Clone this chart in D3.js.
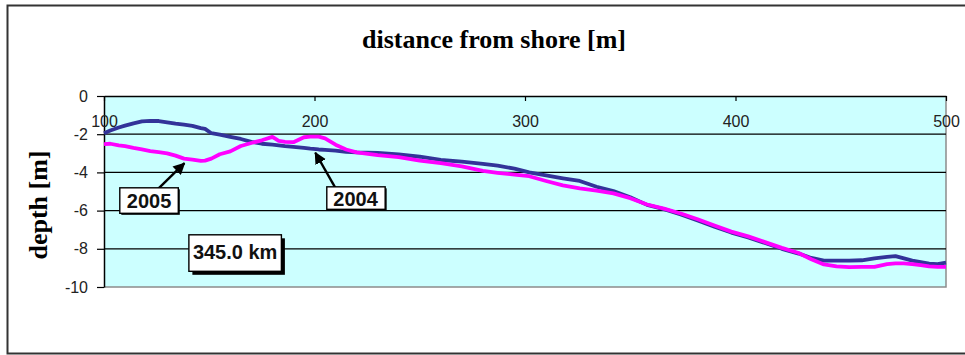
<!DOCTYPE html>
<html>
<head>
<meta charset="utf-8">
<script src="https://cdn.jsdelivr.net/npm/d3@7"></script>
<style>
  html, body { margin: 0; padding: 0; background: #fff; }
  svg { display: block; }
</style>
</head>
<body>
<svg id="chart" width="965" height="355"></svg>
<script>
// ---- data ----
const distance = [100,103,107,110,114,118,122,126,130,134,138,142,146,148,151,155,160,165,170,175,180,183,186,190,195,198,202,205,210,215,220,230,240,250,260,270,280,287,295,302,310,318,326,334,342,350,358,366,374,382,390,398,406,414,422,430,436,442,448,454,460,466,472,476,480,484,488,492,496,500];
const depth2004 = [-1.95,-1.81,-1.65,-1.55,-1.43,-1.33,-1.30,-1.31,-1.38,-1.45,-1.50,-1.56,-1.68,-1.72,-1.95,-2.02,-2.14,-2.25,-2.40,-2.50,-2.55,-2.58,-2.62,-2.66,-2.72,-2.76,-2.80,-2.82,-2.86,-2.92,-2.95,-2.98,-3.06,-3.18,-3.35,-3.44,-3.55,-3.65,-3.80,-4.00,-4.15,-4.31,-4.45,-4.75,-4.98,-5.30,-5.70,-5.92,-6.20,-6.52,-6.84,-7.15,-7.40,-7.70,-8.00,-8.25,-8.48,-8.62,-8.62,-8.62,-8.60,-8.50,-8.42,-8.38,-8.50,-8.62,-8.70,-8.78,-8.80,-8.73];
const depth2005 = [-2.52,-2.50,-2.58,-2.62,-2.72,-2.80,-2.88,-2.94,-3.00,-3.12,-3.28,-3.33,-3.40,-3.38,-3.28,-3.05,-2.90,-2.62,-2.46,-2.32,-2.14,-2.35,-2.40,-2.42,-2.16,-2.13,-2.13,-2.22,-2.55,-2.80,-2.95,-3.10,-3.20,-3.38,-3.52,-3.68,-3.92,-4.02,-4.12,-4.20,-4.45,-4.68,-4.84,-4.95,-5.10,-5.35,-5.68,-5.90,-6.15,-6.45,-6.78,-7.10,-7.35,-7.65,-7.95,-8.22,-8.55,-8.82,-8.92,-8.96,-8.95,-8.95,-8.80,-8.76,-8.76,-8.80,-8.86,-8.92,-8.95,-8.95];
const xTicks = [100, 200, 300, 400, 500];
const yTicks = [0, -2, -4, -6, -8, -10];
const gridValues = [-2, -4, -6, -8];
const titleText = "distance from shore [m]";
const yTitleText = "depth [m]";
// annotations: label, label anchor (distance, depth), arrow target (distance, depth)
const labels2005 = { text: "2005", at: [121.4, -5.88], target: [138.2, -3.52], from: [124, -5.05] };
const labels2004 = { text: "2004", at: [219.5, -5.75], target: [200.4, -2.97], from: [210.8, -4.98] };
const kmLabel = { text: "345.0 km", at: [162.3, -8.55] };

// ---- layout ----
const svg = d3.select("#chart");
const pLeft = 104, pRight = 946, pTop = 96, pBottom = 287;

const x = d3.scaleLinear().domain([100, 500]).range([pLeft, pRight]);
const y = d3.scaleLinear().domain([0, -10]).range([pTop, pBottom]);

// outer frame
svg.append("rect")
  .attr("x", 7.5).attr("y", 5.5).attr("width", 965).attr("height", 348)
  .attr("fill", "#fff").attr("stroke", "#333").attr("stroke-width", 2);

// plot background
svg.append("rect")
  .attr("x", pLeft).attr("y", pTop).attr("width", pRight - pLeft).attr("height", pBottom - pTop)
  .attr("fill", "#ccffff");
// right and bottom gray border
svg.append("path")
  .attr("d", `M${pRight},${pTop}V${pBottom}H${pLeft}`)
  .attr("fill", "none").attr("stroke", "#8c8c8c").attr("stroke-width", 1.5);

// grid lines
svg.append("g").selectAll("line").data(gridValues).join("line")
  .attr("x1", pLeft).attr("x2", pRight)
  .attr("y1", d => y(d)).attr("y2", d => y(d))
  .attr("stroke", "#000").attr("stroke-width", 1.2);

// axes
const yAxis = d3.axisLeft(y).tickValues(yTicks).tickSize(7).tickSizeOuter(0).tickPadding(9)
  .tickFormat(d => String(d));
const gy = svg.append("g").attr("transform", `translate(${pLeft},0)`).call(yAxis);
gy.selectAll("text").attr("font-family", "'Liberation Sans', Arial, sans-serif")
  .attr("font-size", 16).attr("fill", "#222");
gy.selectAll("line").attr("stroke", "#000").attr("stroke-width", 1.2);
gy.select(".domain").attr("stroke", "#000").attr("stroke-width", 1.5);

const xAxis = d3.axisBottom(x).tickValues(xTicks).tickSize(5).tickSizeOuter(0).tickPadding(15)
  .tickFormat(d => String(d));
const gx = svg.append("g").attr("transform", `translate(0,${pTop})`).call(xAxis);
gx.selectAll("text").attr("font-family", "'Liberation Sans', Arial, sans-serif")
  .attr("font-size", 16).attr("fill", "#222");
gx.selectAll("line").attr("stroke", "#000").attr("stroke-width", 1.2);
gx.select(".domain").attr("stroke", "#000").attr("stroke-width", 1.5);

// lines
const line = vals => d3.line()
  .x((d, i) => x(distance[i]))
  .y((d, i) => y(vals[i]))
  .curve(d3.curveLinear)(vals);

svg.append("path").attr("d", line(depth2004))
  .attr("fill", "none").attr("stroke", "#333399").attr("stroke-width", 3.8)
  .attr("stroke-linejoin", "round");
svg.append("path").attr("d", line(depth2005))
  .attr("fill", "none").attr("stroke", "#ff00ff").attr("stroke-width", 3.8)
  .attr("stroke-linejoin", "round");

// titles
svg.append("text")
  .attr("x", 494).attr("y", 47.5).attr("text-anchor", "middle")
  .attr("font-family", "'Liberation Serif', 'Times New Roman', serif")
  .attr("font-weight", "bold").attr("font-size", 26).attr("fill", "#000")
  .text(titleText);
svg.append("text")
  .attr("transform", "translate(46.5,205) rotate(-90)").attr("text-anchor", "middle")
  .attr("font-family", "'Liberation Serif', 'Times New Roman', serif")
  .attr("font-weight", "bold").attr("font-size", 26).attr("fill", "#000")
  .text(yTitleText);

// arrow marker
svg.append("defs").append("marker")
  .attr("id", "arrow").attr("viewBox", "0 0 10 10").attr("refX", 9).attr("refY", 5)
  .attr("markerWidth", 5).attr("markerHeight", 5).attr("orient", "auto")
  .append("path").attr("d", "M0,0L10,5L0,10Z").attr("fill", "#000");

function arrow(a) {
  svg.append("line")
    .attr("x1", x(a.from[0])).attr("y1", y(a.from[1]))
    .attr("x2", x(a.target[0])).attr("y2", y(a.target[1]))
    .attr("stroke", "#000").attr("stroke-width", 2.4)
    .attr("marker-end", "url(#arrow)");
}
function boxLabel(a, padX, padTop, padBot, shadow) {
  const g = svg.append("g");
  const t = g.append("text")
    .attr("x", x(a.at[0])).attr("y", y(a.at[1]))
    .attr("text-anchor", "middle")
    .attr("font-family", "'Liberation Sans', Arial, sans-serif")
    .attr("font-weight", "bold").attr("font-size", 20).attr("fill", "#111")
    .text(a.text);
  const bb = t.node().getBBox();
  const bx = bb.x - padX, by = y(a.at[1]) - 14.5 - padTop;
  const bw = bb.width + 2 * padX, bh = 14.5 + padTop + padBot;
  if (shadow) {
    g.insert("rect", "text").attr("x", bx + shadow).attr("y", by + shadow)
      .attr("width", bw).attr("height", bh).attr("fill", "#000");
  }
  g.insert("rect", "text").attr("x", bx).attr("y", by).attr("width", bw).attr("height", bh)
    .attr("fill", "#fff").attr("stroke", "#000").attr("stroke-width", 1.4);
}

arrow(labels2005);
arrow(labels2004);
boxLabel(labels2005, 7, 6, 5, 1.5);
boxLabel(labels2004, 6.5, 4.5, 3.5, 1.5);
boxLabel(kmLabel, 4, 10, 12, 3.5);
</script>
</body>
</html>
